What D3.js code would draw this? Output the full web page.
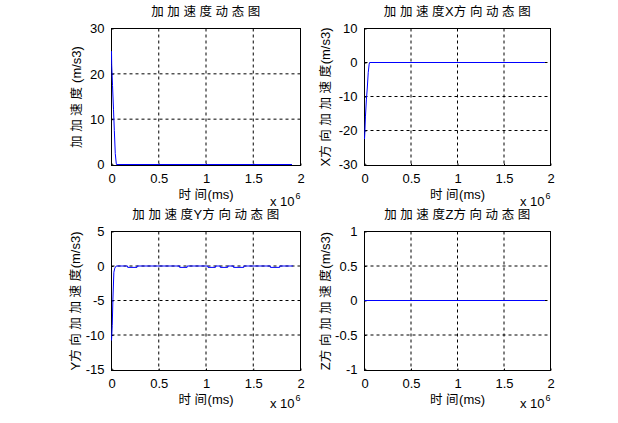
<!DOCTYPE html>
<html><head><meta charset="utf-8">
<script src="https://cdn.jsdelivr.net/npm/d3@7"></script>
<style>body{margin:0;background:#fff}</style>
</head><body>
<svg id="c" width="618" height="423"></svg>
<script>
// ---- data ----
const xTicks = [0, 0.5e6, 1e6, 1.5e6, 2e6];
const xTickLabels = ["0", "0.5", "1", "1.5", "2"];

const tJ = [0, 2000, 11000, 21000, 30000, 40000, 50000, 53000, 1910000];
const vJ = [25, 22, 17.4, 12.2, 7.5, 2.4, 0.3, 0, 0];
const yTicksJ = [0, 10, 20, 30];
const yTickLabelsJ = ["0", "10", "20", "30"];

const tX = [0, 4000, 10000, 20000, 30000, 40000, 50000, 55000, 1940000];
const vX = [-22.5, -20.5, -16, -11, -7.5, -3, -0.5, 0, 0];
const yTicksX = [-30, -20, -10, 0, 10];
const yTickLabelsX = ["-30", "-20", "-10", "0", "10"];

const tY = [0, 8000, 15000, 25000, 35000, 50000, 60000,
  170000, 171000, 270000, 271000,
  720000, 721000, 800000, 801000,
  1020000, 1021000, 1100000, 1101000,
  1150000, 1151000, 1230000, 1231000,
  1290000, 1291000, 1400000, 1401000,
  1680000, 1681000, 1780000, 1781000,
  1920000];
const vY = [-10.8, -8.6, -4.8, -0.9, -0.3, 0, 0,
  0, -0.2, -0.2, 0,
  0, -0.2, -0.2, 0,
  0, -0.2, -0.2, 0,
  0, -0.2, -0.2, 0,
  0, -0.2, -0.2, 0,
  0, -0.2, -0.2, 0,
  0];
const yTicksY = [-15, -10, -5, 0, 5];
const yTickLabelsY = ["-15", "-10", "-5", "0", "5"];

const tZ = [0, 1940000];
const vZ = [0, 0];
const yTicksZ = [-1, -0.5, 0, 0.5, 1];
const yTickLabelsZ = ["-1", "-0.5", "0", "0.5", "1"];

const titles = ["加加速度动态图", "加加速度X方向动态图", "加加速度Y方向动态图", "加加速度Z方向动态图"];
const yLabels = ["加加速度 (m/s3)", "X方向加加速度(m/s3)", "Y方向加加速度(m/s3)", "Z方向加加速度(m/s3)"];
const xLabel = "时间(ms)";

// ---- layout ----
const panels = [
  {L:111.5, R:300.5, T:28.5, B:165.5, t:tJ, v:vJ, yt:yTicksJ, ytl:yTickLabelsJ, title:titles[0], yl:yLabels[0], ylOff:31, expOff:40},
  {L:364.5, R:550.5, T:28.5, B:165.5, t:tX, v:vX, yt:yTicksX, ytl:yTickLabelsX, title:titles[1], yl:yLabels[1], ylOff:35, expOff:40},
  {L:111.5, R:300.5, T:231.5, B:370.5, t:tY, v:vY, yt:yTicksY, ytl:yTickLabelsY, title:titles[2], yl:yLabels[2], ylOff:32, expOff:37.5},
  {L:364.5, R:550.5, T:231.5, B:370.5, t:tZ, v:vZ, yt:yTicksZ, ytl:yTickLabelsZ, title:titles[3], yl:yLabels[3], ylOff:35, expOff:37.5}
];

const svg = d3.select("#c");
svg.append("rect").attr("width",618).attr("height",423).attr("fill","#fff");

const LATIN = "'Liberation Sans', Arial, sans-serif";
const CJK = "'Noto Sans CJK SC', sans-serif";

function mixedText(sel, str, size) {
  const runs = [];
  for (const ch of str) {
    const isC = /[\u3000-\u9fff]/.test(ch);
    if (runs.length && runs[runs.length-1].c === isC) runs[runs.length-1].s += ch;
    else runs.push({c:isC, s:ch});
  }
  runs.forEach(r => {
    if (r.c) {
      const chars = Array.from(r.s);
      if (chars.length > 1) {
        sel.append("tspan").text(chars.slice(0, -1).join(""))
          .attr("font-family", CJK).attr("font-size", size - 0.5).attr("letter-spacing", 3.6);
      }
      sel.append("tspan").text(chars[chars.length-1])
        .attr("font-family", CJK).attr("font-size", size - 0.5).attr("letter-spacing", 0.5);
    } else {
      sel.append("tspan").text(r.s).attr("font-family", LATIN).attr("font-size", size).attr("letter-spacing", 0);
    }
  });
}

panels.forEach(p => {
  const x = d3.scaleLinear().domain([0, 2e6]).range([p.L, p.R]);
  const y = d3.scaleLinear().domain([p.yt[0], p.yt[p.yt.length-1]]).range([p.B - 1, p.T]);
  const g = svg.append("g");

  // grid (interior ticks only; edge ticks coincide with the box)
  const gxTicks = xTicks.slice(1, -1);
  const gyTicks = p.yt.slice(1, -1);
  g.selectAll(".gx").data(gxTicks).enter().append("line")
    .attr("x1", d => x(d)).attr("x2", d => x(d)).attr("y1", p.T).attr("y2", p.B)
    .attr("stroke", "#000").attr("stroke-width", 1).attr("stroke-dasharray", "3,3");
  g.selectAll(".gy").data(gyTicks).enter().append("line")
    .attr("x1", p.L).attr("x2", p.R).attr("y1", d => y(d)).attr("y2", d => y(d))
    .attr("stroke", "#000").attr("stroke-width", 1).attr("stroke-dasharray", "3,3");

  // axes via d3
  const bottom = d3.axisBottom(x).tickValues(xTicks).tickFormat((d,i) => xTickLabels[i]).tickSizeInner(-2).tickSizeOuter(0).tickPadding(8);
  const ga = g.append("g").attr("transform", `translate(0,${p.B})`).call(bottom);
  ga.select(".domain").remove();
  ga.selectAll("text").attr("font-family", LATIN).attr("font-size", 13).attr("fill", "#000");
  ga.selectAll("line").attr("stroke", "#000");

  const left = d3.axisLeft(y).tickValues(p.yt).tickFormat((d,i) => p.ytl[i]).tickSizeInner(-2).tickSizeOuter(0).tickPadding(7);
  const gl = g.append("g").attr("transform", `translate(${p.L},0)`).call(left);
  gl.select(".domain").remove();
  gl.selectAll("text").attr("font-family", LATIN).attr("font-size", 13).attr("fill", "#000");
  gl.selectAll("line").attr("stroke", "#000");

  // box
  g.append("rect").attr("x", p.L).attr("y", p.T).attr("width", p.R - p.L).attr("height", p.B - p.T)
    .attr("fill", "none").attr("stroke", "#000").attr("stroke-width", 1);

  // data line (on top of the box, as in the reference)
  const pts = p.t.map((t, i) => [t, p.v[i]]);
  g.append("path").datum(pts)
    .attr("d", d3.line().x(d => x(d[0])).y(d => y(d[1])))
    .attr("fill", "none").attr("stroke", "#0000ff").attr("stroke-width", 1);

  // title
  const tt = g.append("text").attr("x", (p.L + p.R)/2).attr("y", p.T - 12.5)
    .attr("text-anchor", "middle").attr("fill", "#000");
  mixedText(tt, p.title, 13);

  // xlabel
  const xl = g.append("text").attr("x", (p.L + p.R)/2).attr("y", p.B + 33)
    .attr("text-anchor", "middle").attr("fill", "#000");
  mixedText(xl, xLabel, 13);

  // ylabel
  const yx = p.L - p.ylOff, yy = (p.T + p.B)/2;
  const ylab = g.append("text").attr("transform", `translate(${yx},${yy}) rotate(-90)`)
    .attr("text-anchor", "middle").attr("fill", "#000");
  mixedText(ylab, p.yl, 13);

  // exponent
  const ex = g.append("text").attr("x", p.R - 30.5).attr("y", p.B + p.expOff)
    .attr("font-family", LATIN).attr("font-size", 13).attr("fill", "#000");
  ex.append("tspan").text("x 10");
  ex.append("tspan").text("6").attr("font-size", 9).attr("dy", -7).attr("dx", 1);
});
</script>
</body></html>
